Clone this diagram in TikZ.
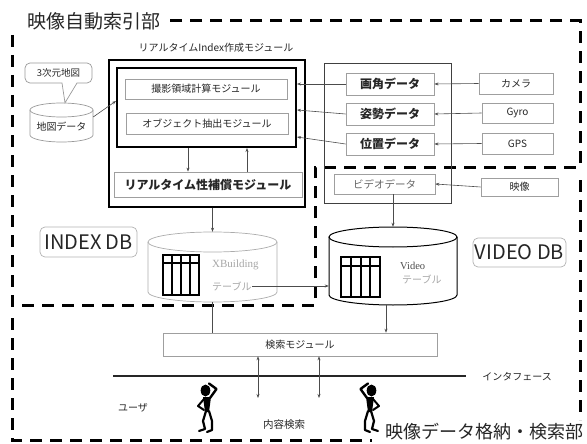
\documentclass[tikz,border=0pt]{standalone}
\usepackage{fontspec}
\setmainfont{Noto Sans CJK JP}
\newfontfamily\romanfont{Liberation Serif}
\usetikzlibrary{arrows.meta,calc}

% cylinder outline: style, name, centre x, x radius, top, bottom, y radius
\newcommand\dbcyl[7]{%
  \node[inner sep=0pt,minimum width={2*#4pt},minimum height={(#6-#5)*1pt}] (#2) at (#3,{(#5+#6)/2}) {};
  \draw[#1] (#3-#4,#5+#7) -- (#3-#4,#6-#7)
    arc[start angle=180,end angle=360,x radius=#4pt,y radius=#7pt] -- (#3+#4,#5+#7);
  \draw[#1] (#3,#5+#7) ellipse[x radius=#4pt,y radius=#7pt];
}

\tikzset{
  thinker/.pic={
    \fill[black] (-1.5,-16.5) ellipse[x radius=4.8pt,y radius=6pt];
    \draw[line width=2.4pt,line cap=round,line join=round] (3,-9) -- (9.5,-18) -- (2,-23.5);
    \fill[black] (-4,-10) -- (4,-10) -- (2,5) -- (-2,5) -- cycle;
    \draw[line width=2pt,line cap=round,line join=round] (-3,-8) -- (-9,-1) -- (-3,3);
    \draw[line width=2.2pt,line cap=round,line join=round] (-1,4) -- (-4,14) -- (-2,22) -- (-8,24);
    \draw[line width=2.2pt,line cap=round,line join=round] (2,4) -- (5,14) -- (5,23) -- (0,25);
  }
}

\begin{document}
\begin{tikzpicture}[x=1pt,y=-1pt,
  every node/.style={text=black!85},
  frame/.style={line width=3pt,dash pattern=on 12pt off 8pt},
  graybox/.style={draw=gray!75,line width=0.6pt,inner sep=0pt,font=\fontsize{10}{12}\selectfont},
  boldbox/.style={draw=gray!75,line width=0.8pt,inner sep=0pt,font=\fontsize{12}{14}\selectfont\bfseries},
  dbtag/.style={draw=gray!60,line width=0.7pt,rounded corners=5pt,inner sep=0pt,font=\fontsize{20}{24}\selectfont},
  small/.style={font=\fontsize{10}{12}\selectfont},
  tabtext/.style={anchor=west,inner sep=0pt,text=gray!70,font=\fontsize{10}{12}\selectfont},
  link/.style={draw=black!70,line width=0.6pt},
  arr/.style={link,-{Stealth[length=4pt,width=3pt]}},
  grid/.style={line width=1.4pt,black}
]
\useasboundingbox (0,0) rectangle (587,444);

% ---- dashed frames ----
\node[font=\fontsize{19}{22}\selectfont,inner sep=0pt] (toplabel) at (94,21) {映像自動索引部};
\draw[frame] (12,35) -- (12,305) -- (315,305) -- (315,167) -- (580,167) -- (580,21) -- (168,21);
\node[font=\fontsize{18}{22}\selectfont,inner sep=0pt,anchor=east] (botlabel) at (584,432) {映像データ格納・検索部};
\draw[frame] (12,318) -- (12,440) -- (372,440);
\draw[frame] (580,180) -- (580,420);

% ---- realtime index module ----
\node[small] (idxtitle) at (216,48) {リアルタイムIndex作成モジュール};
\node[draw=black,line width=1.3pt,minimum width=196pt,minimum height=147pt] (idxout) at (207,133.5) {};
\node[draw=black,line width=2pt,minimum width=179pt,minimum height=79pt] (idxin) at (206.5,107.5) {};
\node[graybox,minimum width=162pt,minimum height=20pt] (satsuei) at (206,89) {撮影領域計算モジュール};
\node[graybox,minimum width=162pt,minimum height=21pt] (object) at (207,123.5) {オブジェクト抽出モジュール};
\node[boldbox,minimum width=188pt,minimum height=25pt] (hosho) at (208,184.5) {リアルタイム性補償モジュール};

% ---- sensor data ----
\node[draw=black!75,line width=0.8pt,minimum width=127pt,minimum height=140pt] (datagrp) at (387.5,133) {};
\node[boldbox,minimum width=88pt,minimum height=22pt] (gakaku) at (390,84) {画角データ};
\node[boldbox,minimum width=88pt,minimum height=22pt] (shisei) at (390,114) {姿勢データ};
\node[boldbox,minimum width=88pt,minimum height=22pt] (ichi) at (390,144) {位置データ};
\node[graybox,minimum width=101pt,minimum height=20pt,text=black!60,font=\fontsize{10.5}{12}\selectfont] (videodata) at (384.5,184) {ビデオデータ};
\node[graybox,minimum width=74pt,minimum height=21pt] (camera) at (516,83.5) {カメラ};
\node[graybox,minimum width=71pt,minimum height=20pt] (gyro) at (517.5,113) {Gyro};
\node[graybox,minimum width=71pt,minimum height=21pt] (gps) at (517.5,143.5) {GPS};
\node[graybox,minimum width=77pt,minimum height=18pt] (eizo) at (519.5,187) {映像};

% ---- map data with callout ----
\dbcyl{draw=gray!80,line width=0.7pt}{chizu}{61.5}{31.5}{103}{142}{7}
\node[small,inner sep=0pt] (chizutext) at (61.5,127) {地図データ};
\node[inner sep=0pt,font=\fontsize{9.5}{11}\selectfont] (mapcall) at (58.5,73) {3次元地図};
\draw[gray!80,line width=0.7pt] (62,83) [rounded corners=5pt] -- (25,83) -- (25,63) -- (92,63) -- (92,83) [sharp corners] -- (77,83) -- (chizu.north -| 65,0) -- cycle;

% ---- databases ----
\node[dbtag,minimum width=97pt,minimum height=30pt] (indexdb) at (88.5,242) {INDEX DB};
\node[dbtag,minimum width=93pt,minimum height=29pt] (videodb) at (519.5,252.5) {VIDEO DB};

\dbcyl{draw=gray!65,line width=0.7pt}{xbld}{212.5}{64.5}{232}{302}{10}
\draw[grid] (163,255) rectangle (199,295) (163,263) -- (199,263)
  (172,255) -- (172,295) (181,255) -- (181,295) (190,255) -- (190,295);
\node[tabtext,font=\romanfont\fontsize{11}{12}\selectfont] (xbname) at (212,265) {XBuilding};
\node[tabtext] (xbtab) at (212,286) {テーブル};

\dbcyl{draw=black,line width=1pt}{vcyl}{393}{64}{227}{305}{10}
\draw[grid] (341,257) rectangle (380,297) (341,266) -- (380,266)
  (351,257) -- (351,297) (361,257) -- (361,297) (370,257) -- (370,297);
\node[tabtext,text=black!70,font=\romanfont\fontsize{10.5}{12}\selectfont] (vname) at (400,266) {Video};
\node[tabtext] (vtab) at (402,279) {テーブル};

% ---- search and user side ----
\node[graybox,minimum width=274pt,minimum height=23pt] (search) at (300,344.5) {検索モジュール};
\coordinate (ifL) at (113,376);
\coordinate (ifR) at (466,376);
\draw[line width=2.6pt,black!85] (ifL) -- (ifR);
\node[small] (iflabel) at (517,377) {インタフェース};
\node[small] (user) at (133,408) {ユーザ};
\node[small,font=\fontsize{10.5}{12}\selectfont] (naiyo) at (284,425) {内容検索};
\coordinate (q1) at (258,398);
\coordinate (q2) at (319,398);
\pic at (207,407) {thinker};
\pic[xscale=-1] at (370,407) {thinker};

% ---- connectors ----
\draw[arr] (camera.west) -- (gakaku.east);
\draw[arr] (gyro.west) -- (shisei.east);
\draw[arr] (gps.west) -- (ichi.east);
\draw[arr] (eizo.west) -- (videodata.east);
\draw[arr] (gakaku.west) -- (gakaku.west -| idxin.east);
\draw[arr] (shisei.west) -- ($(idxin.north east)+(0,43)$);
\draw[arr] (ichi.west) -- ($(idxin.north east)+(0,70)$);
\draw[arr] ($(chizu.east)+(0,-5.5)$) -- ($(idxin.north west)+(0,34)$);
\draw[arr] ($(idxin.south)+(-18.5,0)$) -- ($(hosho.north)+(-20,0)$);
\draw[arr] ($(hosho.north)+(39,0)$) -- ($(idxin.south)+(40.5,0)$);
\draw[arr] (idxout.south -| xbld.north) -- (xbld.north);
\draw[arr] (videodata.south -| vcyl.north) -- (vcyl.north);
\draw[arr] (xbtab.east) -- (xbtab.east -| vcyl.west);
\draw[link] (xbld.south) -- (search.north -| xbld.south);
\draw[arr] ($(vcyl.south)+(-7,0)$) -- ($(search.north -| vcyl.south)+(-7,0)$);
\draw[link,{Stealth[length=4pt,width=3pt]}-{Stealth[length=4pt,width=3pt]}] (search.south -| q1) -- (q1);
\draw[link,{Stealth[length=4pt,width=3pt]}-{Stealth[length=4pt,width=3pt]}] (search.south -| q2) -- (q2);
\end{tikzpicture}
\end{document}
